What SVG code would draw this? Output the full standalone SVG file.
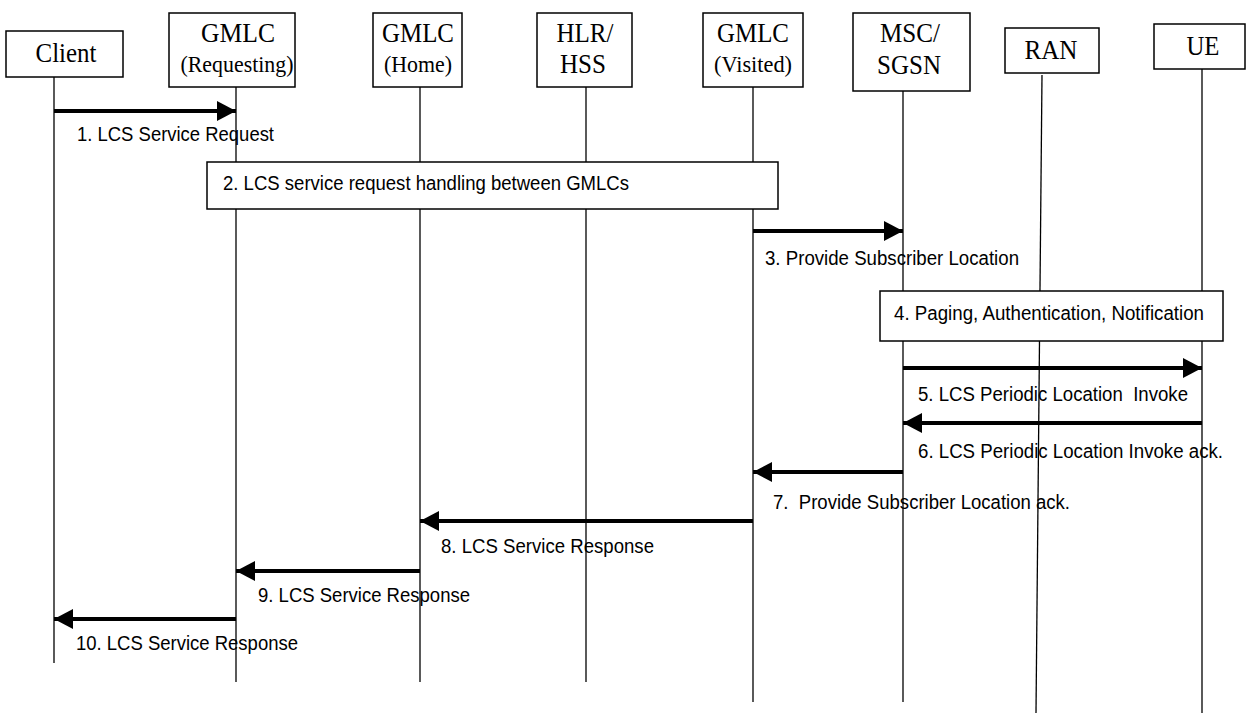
<svg xmlns="http://www.w3.org/2000/svg" width="1246" height="713" viewBox="0 0 1246 713">
<style>
.box{fill:#fff;stroke:#000;stroke-width:1.5}
.life{stroke:#000;stroke-width:1.3;fill:none}
.hd{font-family:"Liberation Serif","Times New Roman",serif;font-size:27px;fill:#000;text-anchor:middle}
.hs{font-family:"Liberation Serif","Times New Roman",serif;font-size:24px;fill:#000;text-anchor:middle}
.msg{stroke:#000;stroke-width:4;fill:none;marker-end:url(#ah)}
.lbl{font-family:"Liberation Sans",Arial,sans-serif;font-size:20px;fill:#000;white-space:pre}
</style>
<defs>
<marker id="ah" markerUnits="userSpaceOnUse" markerWidth="20" markerHeight="21" refX="19" refY="10" orient="auto" viewBox="0 0 20 21">
<path d="M0,0 L19,10 L0,20 Z" fill="#000"/>
</marker>
</defs>
<rect width="1246" height="713" fill="#fff"/>

<g id="client">
<line class="life" x1="54" y1="77" x2="54" y2="663"/>
<rect class="box" x="6" y="31" width="117" height="46"/>
<text class="hd" x="66" y="62" textLength="61" lengthAdjust="spacingAndGlyphs">Client</text>
</g>
<g id="gmlc-requesting">
<line class="life" x1="236" y1="87" x2="236" y2="682"/>
<rect class="box" x="169" y="13" width="126" height="74"/>
<text class="hd" x="238" y="42" textLength="74" lengthAdjust="spacingAndGlyphs">GMLC</text>
<text class="hs" x="237" y="72" textLength="113" lengthAdjust="spacingAndGlyphs">(Requesting)</text>
</g>
<g id="gmlc-home">
<line class="life" x1="420" y1="87" x2="420" y2="682"/>
<rect class="box" x="373" y="13" width="89" height="74"/>
<text class="hd" x="418" y="42" textLength="72" lengthAdjust="spacingAndGlyphs">GMLC</text>
<text class="hs" x="418" y="72" textLength="68" lengthAdjust="spacingAndGlyphs">(Home)</text>
</g>
<g id="hlr-hss">
<line class="life" x1="586" y1="87" x2="586" y2="682"/>
<rect class="box" x="537" y="13" width="95" height="74"/>
<text class="hd" x="585" y="42" textLength="57" lengthAdjust="spacingAndGlyphs">HLR/</text>
<text class="hd" x="583" y="73" textLength="46" lengthAdjust="spacingAndGlyphs">HSS</text>
</g>
<g id="gmlc-visited">
<line class="life" x1="753" y1="87" x2="753" y2="702"/>
<rect class="box" x="703" y="13" width="100" height="74"/>
<text class="hd" x="753" y="42" textLength="72" lengthAdjust="spacingAndGlyphs">GMLC</text>
<text class="hs" x="753" y="72" textLength="78" lengthAdjust="spacingAndGlyphs">(Visited)</text>
</g>
<g id="msc-sgsn">
<line class="life" x1="903" y1="91" x2="903" y2="702"/>
<rect class="box" x="853" y="13" width="117" height="78"/>
<text class="hd" x="910" y="42" textLength="60" lengthAdjust="spacingAndGlyphs">MSC/</text>
<text class="hd" x="909" y="74" textLength="64" lengthAdjust="spacingAndGlyphs">SGSN</text>
</g>
<g id="ran">
<line class="life" x1="1042" y1="75" x2="1036" y2="713"/>
<rect class="box" x="1005" y="28" width="94" height="45"/>
<text class="hd" x="1051" y="59" textLength="53" lengthAdjust="spacingAndGlyphs">RAN</text>
</g>
<g id="ue">
<line class="life" x1="1202" y1="69" x2="1202" y2="713"/>
<rect class="box" x="1154" y="24" width="91" height="45"/>
<text class="hd" x="1203" y="55" textLength="33" lengthAdjust="spacingAndGlyphs">UE</text>
</g>

<g id="step2">
<rect class="box" x="207" y="162" width="571" height="47"/>
<text class="lbl" x="223" y="190" textLength="406" lengthAdjust="spacingAndGlyphs">2. LCS service request handling between GMLCs</text>
</g>
<g id="step4">
<rect class="box" x="880" y="291" width="343" height="50"/>
<text class="lbl" x="894" y="320" textLength="310" lengthAdjust="spacingAndGlyphs">4. Paging, Authentication, Notification</text>
</g>

<g id="connectors">
<line class="msg" x1="54" y1="111" x2="236" y2="111"/>
<line class="msg" x1="753" y1="231" x2="903" y2="231"/>
<line class="msg" x1="903" y1="368" x2="1202" y2="368"/>
<line class="msg" x1="1202" y1="423" x2="903" y2="423"/>
<line class="msg" x1="903" y1="472" x2="753" y2="472"/>
<line class="msg" x1="753" y1="521" x2="420" y2="521"/>
<line class="msg" x1="420" y1="571" x2="236" y2="571"/>
<line class="msg" x1="236" y1="619" x2="54" y2="619"/>
</g>

<g id="labels">
<text class="lbl" x="77" y="141" textLength="197" lengthAdjust="spacingAndGlyphs">1. LCS Service Request</text>
<text class="lbl" x="765" y="265" textLength="254" lengthAdjust="spacingAndGlyphs">3. Provide Subscriber Location</text>
<text class="lbl" x="918" y="401" xml:space="preserve" textLength="270" lengthAdjust="spacingAndGlyphs">5. LCS Periodic Location  Invoke</text>
<text class="lbl" x="918" y="458" textLength="305" lengthAdjust="spacingAndGlyphs">6. LCS Periodic Location Invoke ack.</text>
<text class="lbl" x="773" y="509" xml:space="preserve" textLength="297" lengthAdjust="spacingAndGlyphs">7.  Provide Subscriber Location ack.</text>
<text class="lbl" x="441" y="553" textLength="213" lengthAdjust="spacingAndGlyphs">8. LCS Service Response</text>
<text class="lbl" x="258" y="602" textLength="212" lengthAdjust="spacingAndGlyphs">9. LCS Service Response</text>
<text class="lbl" x="76" y="650" textLength="222" lengthAdjust="spacingAndGlyphs">10. LCS Service Response</text>
</g>
</svg>
